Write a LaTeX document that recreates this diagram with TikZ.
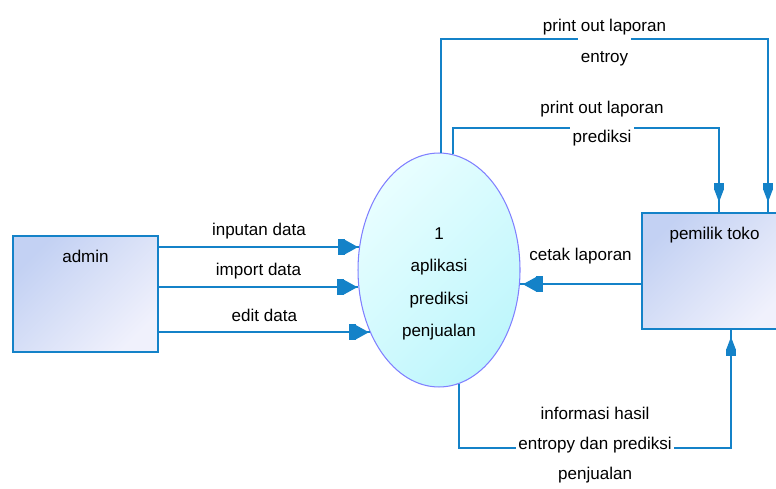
\documentclass[tikz,border=0pt]{standalone}
\usepackage{fontspec}
\setmainfont{Liberation Sans}
\usepackage{tikz}
\usetikzlibrary{arrows.meta,shapes.geometric}
\usetikzlibrary{decorations.markings}
\definecolor{flowblue}{RGB}{20,130,200}
\definecolor{entitytop}{RGB}{195,209,243}
\definecolor{entitybottom}{RGB}{240,241,252}
\definecolor{processtop}{RGB}{232,254,255}
\definecolor{processbottom}{RGB}{190,246,252}
\definecolor{processline}{RGB}{128,128,255}
\tikzset{
    hhead/.tip={Rectangle[length=4pt,width=9pt]Triangle[length=7.5pt,width=8pt]},
    vhead/.tip={Rectangle[length=4pt,width=5.4pt]Triangle[length=7pt,width=5pt]},
    flow/.style 2 args={draw=flowblue, line width=0.9pt,
        postaction={decorate, decoration={markings,
            mark=at position -#2 with {\arrow[flowblue]{#1}}}}},
    entity/.style={draw=flowblue, line width=0.9pt,
        top color=entitytop, bottom color=entitybottom, shading angle=45,
        minimum width=2.9cm, minimum height=2.32cm,
        text height=7pt, text depth=42.7pt},
    process/.style={ellipse, draw=processline, line width=0.6pt,
        top color=processtop, bottom color=processbottom, shading angle=45,
        minimum width=3.24cm, minimum height=4.68cm, inner sep=0pt},
    lbl/.style={anchor=base, yshift=#1},
    lbl/.default=6.4pt,
    cut/.style={fill=white, inner xsep=1.5pt, inner ysep=1pt, text height=#1},
}

\begin{document}
\begin{tikzpicture}[x=0.02cm, y=-0.02cm, font=\fontsize{9.7}{17.2}\selectfont]
\useasboundingbox (0,0) rectangle (776,489);

\node[entity] (admin) at (85.5,294) {admin};
\node[entity] (owner) at (714.5,271) {pemilik toko};
\node[process] (proc) at (439,270) {};
\node[align=center, font=\fontsize{9.7}{18.4}\selectfont] (proctext)
    at ([yshift=-0.28cm]proc.center) {1\\aplikasi\\prediksi\\penjualan};

% data dari admin
\draw[flow={hhead}{0.02cm}] (admin.east |- proc.164.5) -- node[lbl] (in1) {inputan data} (proc.164.5);
\draw[flow={hhead}{0.02cm}] (admin.east |- proc.192.7) -- node[lbl] (in2) {import data} (proc.192.7);
\draw[flow={hhead}{0.02cm}] (admin.east |- proc.222.7) -- node[lbl] (in3) {edit data} (proc.222.7);

\draw[flow={hhead}{0.06cm}] (owner.west |- proc.350.8) -- node[lbl=13.7pt] (req) {cetak laporan} (proc.350.8);

% laporan ke pemilik toko
\draw[flow={vhead}{0.2cm}] (proc.89) -- (proc.89 |- 0,39)
    -| node[pos=.25, lbl=4pt] (out1a) {print out laporan}
       node[pos=.25, lbl=-13.1pt, cut=13.4pt] (out1b) {entroy}
    ([xshift=1.07cm]owner.north);
\draw[flow={vhead}{0.2cm}] (proc.83.6) -- (proc.83.6 |- 0,128)
    -| node[pos=.28, lbl=8.5pt] (out2a) {print out laporan}
       node[pos=.28, lbl=-8.5pt, cut=9.6pt] (out2b) {prediksi}
    ([xshift=0.09cm]owner.north);
\draw[flow={vhead}{0.14cm}] (proc.280.5) -- (proc.280.5 |- 0,448)
    -| node[pos=.25, fill=white, align=center, inner sep=1.5pt, yshift=1.5pt] (info)
       {informasi hasil\\entropy dan prediksi\\penjualan}
    ([xshift=0.33cm]owner.south);
\end{tikzpicture}
\end{document}
